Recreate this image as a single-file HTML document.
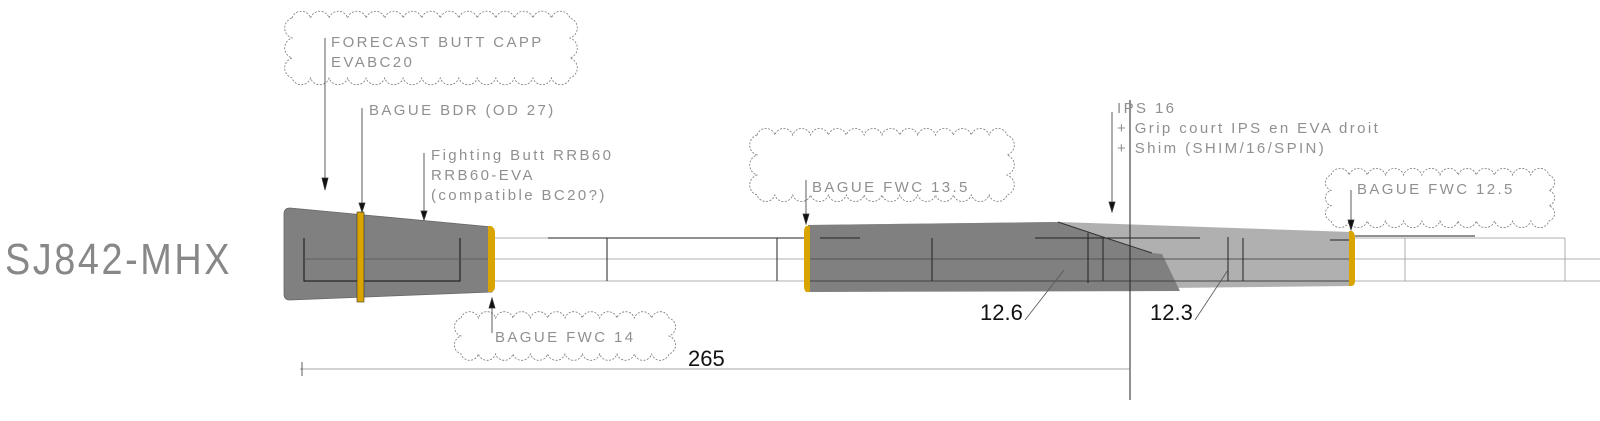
<!DOCTYPE html>
<html><head><meta charset="utf-8"><style>
html,body{margin:0;padding:0;background:#fff;}
svg{display:block;}
.t{font-family:"Liberation Sans",sans-serif;fill:#909090;font-size:15px;letter-spacing:2.4px;}
</style></head><body>
<svg id="s" width="1600" height="421" viewBox="0 0 1600 421" xmlns="http://www.w3.org/2000/svg">
<rect width="1600" height="421" fill="#fff"/>
<g id="clouds" fill="none" stroke="#777" stroke-width="0.8" stroke-dasharray="2 1.5"></g>

<g stroke="#999" stroke-width="0.8">
<line x1="492" y1="238" x2="1565" y2="238"/>
<line x1="300" y1="259" x2="1600" y2="259"/>
<line x1="492" y1="281" x2="1600" y2="281"/>
<line x1="1565" y1="238" x2="1565" y2="281"/>
<line x1="1405" y1="238" x2="1405" y2="281"/>
</g>
<g stroke="#222" stroke-width="1">
<line x1="548" y1="238" x2="805" y2="238"/>
<line x1="607" y1="238" x2="607" y2="281"/>
<line x1="777" y1="238" x2="777" y2="281"/>
<line x1="1355" y1="236" x2="1475" y2="236"/>
</g>

<path d="M290,208 L492,227 L492,292 L290,300 Q284,300 284,294 L284,214 Q284,208 290,208 Z" fill="#808080" stroke="#666" stroke-width="0.8"/>
<g stroke="#111" stroke-width="1" fill="none">
<path d="M304,238 L304,281 L460,281 L460,238"/>
</g>
<line x1="304" y1="259" x2="492" y2="259" stroke="#555" stroke-width="0.8"/>
<rect x="357" y="212" width="7" height="90" fill="#d9a400" stroke="#333" stroke-width="0.6"/>
<path d="M488,226 L491,226 Q495,228 495,232 L495,287 Q495,291 491,292 L488,292 Z" fill="#d9a400"/>

<path d="M808,225 L1060,222 L1352,232 L1352,286 L808,292 Z" fill="#b0b0b0"/>
<path d="M808,225 L1058,222 L1100,236 L1152,253 L1162,254 L1180,291 L808,292 Z" fill="#808080"/>
<g stroke="#222" stroke-width="1" fill="none">
<line x1="808" y1="259" x2="1352" y2="259" stroke="#555"/>
<line x1="808" y1="281" x2="1352" y2="281" stroke="#444"/>
<line x1="820" y1="238" x2="860" y2="238"/>
<line x1="1035" y1="238" x2="1200" y2="238"/>
<line x1="1330" y1="240" x2="1352" y2="240"/>
<line x1="932" y1="238" x2="932" y2="281"/>
<line x1="1103" y1="238" x2="1103" y2="281"/>
<line x1="1088" y1="233" x2="1088" y2="283"/>
<line x1="1228" y1="237" x2="1228" y2="281"/>
<line x1="1243" y1="238" x2="1243" y2="281"/>
<path d="M1058,222 L1100,236 L1152,253" stroke="#333"/>
</g>
<path d="M806,226 L810,226 L810,292 L806,292 Q804,290 804,286 L804,232 Q804,228 806,226 Z" fill="#d9a400"/>
<path d="M1349,231 L1352,231 Q1355,233 1355,237 L1355,281 Q1355,285 1352,286 L1349,286 Z" fill="#d9a400"/>

<line x1="1130" y1="100" x2="1130" y2="400" stroke="#222" stroke-width="1"/>

<g stroke="#333" stroke-width="0.8" fill="#111">
<line x1="325" y1="38" x2="325" y2="185"/><path d="M322,178 L325,190 L328,178Z"/>
<line x1="362" y1="108" x2="362" y2="210"/><path d="M359,203 L362,212 L365,203Z"/>
<line x1="424" y1="153" x2="424" y2="218"/><path d="M421,211 L424,220 L427,211Z"/>
<line x1="492" y1="302" x2="492" y2="333"/><path d="M489,308 L492,298 L495,308Z"/>
<line x1="806" y1="180" x2="806" y2="222"/><path d="M803,214 L806,224 L809,214Z"/>
<line x1="1112" y1="112" x2="1112" y2="210"/><path d="M1109,202 L1112,212 L1115,202Z"/>
<line x1="1351" y1="190" x2="1351" y2="228"/><path d="M1348,220 L1351,230 L1354,220Z"/>
<line x1="1025" y1="320" x2="1064" y2="270" stroke="#555"/>
<line x1="1195" y1="320" x2="1228" y2="270" stroke="#555"/>
<line x1="300" y1="369" x2="1130" y2="369" stroke="#888"/>
<line x1="302" y1="362" x2="302" y2="376"/>
</g>

<text x="5" y="274" style="font-family:'Liberation Sans',sans-serif;font-size:44px;fill:#888;font-weight:100;letter-spacing:3px" textLength="227" lengthAdjust="spacingAndGlyphs">SJ842-MHX</text>
<text class="t" x="331" y="47">FORECAST BUTT CAPP</text>
<text class="t" x="331" y="67">EVABC20</text>
<text class="t" x="369" y="115">BAGUE BDR (OD 27)</text>
<text class="t" x="431" y="160">Fighting Butt RRB60</text>
<text class="t" x="431" y="180">RRB60-EVA</text>
<text class="t" x="431" y="200">(compatible BC20?)</text>
<text class="t" x="495" y="342">BAGUE FWC 14</text>
<text class="t" x="812" y="192">BAGUE FWC 13.5</text>
<text class="t" x="1117" y="113">IPS 16</text>
<text class="t" x="1117" y="133">+ Grip court IPS en EVA droit</text>
<text class="t" x="1117" y="153">+ Shim (SHIM/16/SPIN)</text>
<text class="t" x="1357" y="194">BAGUE FWC 12.5</text>
<g style="font-family:'Liberation Sans',sans-serif;font-size:22px;fill:#111">
<text x="980" y="320">12.6</text>
<text x="1150" y="320">12.3</text>
<text x="688" y="366">265</text>
</g>
</svg>
<script>
function cloud(x,y,w,h,r){
  var d="",pts=[],i,n;
  n=Math.round(w/(2*r));var sx=w/n;
  for(i=0;i<n;i++)pts.push([x+i*sx,y,x+(i+1)*sx,y]);
  n=Math.round(h/(2*r));var sy=h/n;
  for(i=0;i<n;i++)pts.push([x+w,y+i*sy,x+w,y+(i+1)*sy]);
  n=Math.round(w/(2*r));
  for(i=0;i<n;i++)pts.push([x+w-i*sx,y+h,x+w-(i+1)*sx,y+h]);
  n=Math.round(h/(2*r));
  for(i=0;i<n;i++)pts.push([x,y+h-i*sy,x,y+h-(i+1)*sy]);
  d="M"+pts[0][0]+","+pts[0][1];
  pts.forEach(function(p){var rr=Math.hypot(p[2]-p[0],p[3]-p[1])/2*1.05;d+=" A"+rr+","+rr+" 0 0 1 "+p[2]+","+p[3];});
  var e=document.createElementNS("http://www.w3.org/2000/svg","path");
  e.setAttribute("d",d+"Z");document.getElementById("clouds").appendChild(e);
}
cloud(292,18,278,60,9);
cloud(757,135,250,60,9);
cloud(1331,175,218,46,9);
cloud(461,318,208,36,9);
</script>
</body></html>
